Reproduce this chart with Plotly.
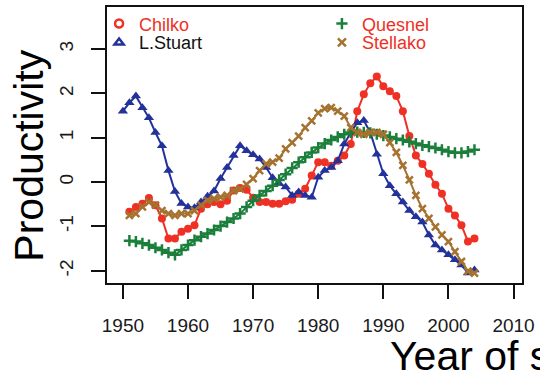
import plotly.graph_objects as go

# ---------------- data ----------------
years_chilko = list(range(1951, 2005))
chilko = [-0.67, -0.56, -0.49, -0.36, -0.52, -0.82, -1.27, -1.27, -1.12, -1.05,
          -0.97, -0.60, -0.50, -0.45, -0.50, -0.42, -0.19, -0.13, -0.17, -0.35,
          -0.45, -0.45, -0.49, -0.49, -0.43, -0.40, -0.26, -0.15, 0.15, 0.45,
          0.45, 0.37, 0.48, 0.60, 0.86, 1.60, 1.98, 2.23, 2.38, 2.16,
          2.05, 1.94, 1.60, 1.04, 0.60, 0.41, 0.19, -0.06, -0.26, -0.60,
          -0.75, -0.97, -1.34, -1.27]

years_stuart = list(range(1950, 2005))
stuart = [1.60, 1.79, 1.94, 1.68, 1.45, 1.12, 0.82, 0.26, -0.21, -0.48,
          -0.56, -0.58, -0.45, -0.32, -0.20, 0.08, 0.33, 0.60, 0.82, 0.71,
          0.62, 0.52, 0.33, 0.10, -0.03, -0.11, -0.30, -0.22, -0.30, -0.34,
          0.11, 0.26, 0.33, 0.48, 0.86, 1.12, 1.34, 1.39, 1.12, 0.63,
          0.19, -0.08, -0.26, -0.45, -0.64, -0.78, -0.90, -1.19, -1.42, -1.53,
          -1.64, -1.75, -1.87, -2.05, -1.98]

years_quesnel = list(range(1951, 2005))
quesnel = [-1.32, -1.34, -1.38, -1.42, -1.48, -1.53, -1.59, -1.64, -1.53, -1.42,
           -1.31, -1.23, -1.16, -1.08, -0.99, -0.90, -0.82, -0.71, -0.56, -0.42,
           -0.30, -0.20, -0.08, 0.05, 0.18, 0.32, 0.45, 0.56, 0.67, 0.78,
           0.87, 0.95, 1.02, 1.08, 1.12, 1.13, 1.12, 1.11, 1.08, 1.05,
           1.02, 0.98, 0.95, 0.91, 0.87, 0.83, 0.80, 0.77, 0.73, 0.69,
           0.66, 0.66, 0.69, 0.73]

years_stellako = list(range(1951, 2005))
stellako = [-0.75, -0.71, -0.56, -0.45, -0.52, -0.64, -0.71, -0.75, -0.71, -0.71,
            -0.64, -0.52, -0.41, -0.37, -0.34, -0.30, -0.19, -0.15, -0.05, 0.08,
            0.26, 0.41, 0.45, 0.54, 0.75, 0.89, 1.04, 1.23, 1.38, 1.56,
            1.66, 1.68, 1.60, 1.49, 1.23, 1.12, 1.08, 1.12, 1.12, 1.08,
            0.89, 0.67, 0.38, 0.05, -0.30, -0.60, -0.82, -1.01, -1.19, -1.34,
            -1.57, -1.79, -2.01, -2.05]

x_ticks = [1950, 1960, 1970, 1980, 1990, 2000, 2010]
y_ticks = [-2, -1, 0, 1, 2, 3]
names = ["Chilko", "L.Stuart", "Quesnel", "Stellako"]

# ---------------- styles ----------------
RED = "#EE3124"
BLUE = "#23319A"
GREEN = "#1B7F3B"
BROWN = "#A5722F"
FONT = "Liberation Sans, Arial, sans-serif"

W, H = 540, 384
L, R, T, B = 107, 526, 5, 283
PW, PH = R - L, B - T


def px_x(px):
    return (px - L) / PW


def px_y(py):
    return (B - py) / PH


series = [
    (years_chilko, chilko, RED, "circle", 8, "circle-open", RED, "legend"),
    (years_stuart, stuart, BLUE, "triangle-up", 9, "triangle-up-open", "#111111", "legend2"),
    (years_quesnel, quesnel, GREEN, "cross-thin", 8, "cross-thin", RED, "legend3"),
    (years_stellako, stellako, BROWN, "x-thin", 7, "x-thin", RED, "legend4"),
]

fig = go.Figure()
for (xs, ys, col, sym, size, lsym, tcol, lg), name in zip(series, names):
    thin = sym.endswith("thin")
    fig.add_trace(go.Scatter(
        x=xs, y=ys, mode="lines+markers", showlegend=False, name=name,
        line=dict(color=col, width=2),
        marker=dict(color=col, symbol=sym, size=size,
                    line=dict(color=col, width=2.5 if thin else 0)),
    ))
for (xs, ys, col, sym, size, lsym, tcol, lg), name in zip(series, names):
    fig.add_trace(go.Scatter(
        x=[None], y=[None], mode="markers", showlegend=True, legend=lg,
        name=f'<span style="color:{tcol}">{name}</span>',
        marker=dict(color=col, symbol=lsym, size=8, line=dict(color=col, width=2.5)),
    ))

legend_pos = {
    "legend": (99, 22),
    "legend2": (99, 41),
    "legend3": (324, 22),
    "legend4": (324, 41),
}
legend_layout = {}
for key, (lx, ly) in legend_pos.items():
    legend_layout[key] = dict(
        x=px_x(lx), y=px_y(ly), xanchor="left", yanchor="middle",
        bgcolor="rgba(0,0,0,0)", borderwidth=0,
        font=dict(family=FONT, size=18, color="#111111"),
        itemwidth=30,
    )

axis_common = dict(
    showline=True, linewidth=2.2, linecolor="#111111", mirror=True,
    ticks="outside", ticklen=14, tickwidth=2, tickcolor="#111111",
    showgrid=False, zeroline=False,
    tickfont=dict(family=FONT, size=19, color="#1a1a1a"),
)

fig.update_layout(
    width=W, height=H,
    margin=dict(l=L, r=W - R, t=T, b=H - B),
    paper_bgcolor="white", plot_bgcolor="white",
    xaxis=dict(range=[1947.56, 2011.3], tickvals=x_ticks,
               ticktext=[str(v) for v in x_ticks], ticklabelstandoff=10,
               **axis_common),
    yaxis=dict(range=[-2.275, 3.95], tickvals=y_ticks,
               ticktext=[str(v) for v in y_ticks], tickangle=-90,
               ticklabelstandoff=10, **axis_common),
    annotations=[
        dict(text="Productivity", x=px_x(28), y=px_y(155), xref="paper", yref="paper",
             xanchor="center", yanchor="middle", textangle=-90, showarrow=False,
             font=dict(family=FONT, size=41, color="#000000")),
        dict(text="Year of spawning", x=px_x(391), y=px_y(357), xref="paper", yref="paper",
             xanchor="left", yanchor="middle", showarrow=False,
             font=dict(family=FONT, size=41, color="#000000")),
    ],
    **legend_layout,
)

fig.write_html("out.html")
